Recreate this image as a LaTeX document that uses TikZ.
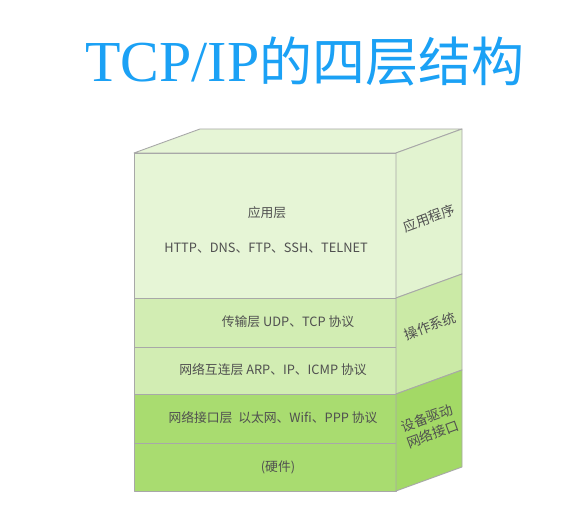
\documentclass[tikz,border=0pt]{standalone}
\usepackage{fontspec}
\newfontfamily\cjk{Noto Sans CJK SC}
\newfontfamily\titlelatin{Liberation Serif}
\usetikzlibrary
  {
    calc,        % depth offsets of the box
    positioning, % place nodes relative to other nodes
  }
\definecolor{titleblue}{RGB}{27,161,245}
\definecolor{edgegray}{RGB}{168,168,168}
\definecolor{textgray}{RGB}{80,80,80}
\definecolor{appgreen}{HTML}{E6F5D6}
\definecolor{osgreen}{HTML}{D2EDB3}
\definecolor{devgreen}{HTML}{A9DC70}
\definecolor{appside}{HTML}{E2F3D0}
\definecolor{osside}{HTML}{CBEAA6}
\definecolor{devside}{HTML}{A3D966}

\begin{document}
\begin{tikzpicture}[x=1pt,y=1pt,
    face/.style={draw=edgegray, line width=0.9pt, line join=round},
    layertext/.style={font=\cjk\fontsize{12.8}{15}\selectfont, text=textgray},
    sidetext/.style={font=\cjk\fontsize{13.5}{17}\selectfont, text=textgray,
                     rotate=20, align=center},
  ]
  \useasboundingbox (0,0) rectangle (582,527);
  \coordinate (depth) at (66,24);

  % front face, one band per layer
  \foreach \top/\bot/\col in {374/229/appgreen, 229/180/osgreen, 180/133/osgreen,
                              133/84/devgreen, 84/36/devgreen}
    \draw[face, fill=\col] (134,\top) rectangle (396,\bot);

  % top face
  \draw[face, fill=appgreen] (134,374) -- ++(depth) -- ($ (396,374) + (depth) $)
    -- (396,374) -- cycle;

  % side face, one band per part
  \foreach \top/\bot/\col in {374/229/appside, 229/133/osside, 133/36/devside}
    \draw[face, fill=\col] (396,\top) -- ($ (396,\top) + (depth) $)
      -- ($ (396,\bot) + (depth) $) -- (396,\bot) -- cycle;

  % title
  \node[anchor=base, text=titleblue] (title) at (305,445)
    {\titlelatin\fontsize{58}{60}\selectfont TCP/IP\cjk\fontsize{53}{60}\selectfont 的四层结构};

  % layers
  \node[layertext] (app)   at (267,314) {应用层};
  \node[layertext] (proto) at (266,279) {HTTP、DNS、FTP、SSH、TELNET};
  \node[layertext] (trans) at (288,205) {传输层 UDP、TCP 协议};
  \node[layertext] (inet)  at (273,157) {网络互连层 ARP、IP、ICMP 协议};
  \node[layertext] (link)  at (273,109) {网络接口层\ \ 以太网、Wifi、PPP 协议};
  \node[layertext] (hw)    at (278,60)  {(硬件)};

  % side labels
  \node[sidetext] (prog) at (429,309) {应用程序};
  \node[sidetext] (os)   at (430,201) {操作系统};
  \node[sidetext] (dev)  at (430,101) {设备驱动\\网络接口};
\end{tikzpicture}
\end{document}
